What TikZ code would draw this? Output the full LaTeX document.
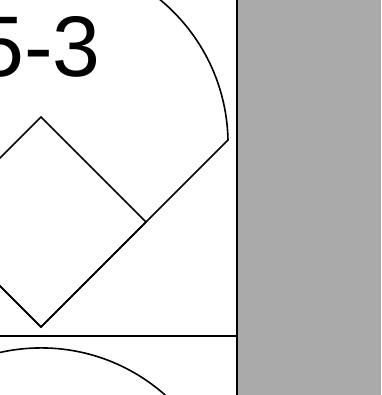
\documentclass[tikz,border=0pt]{standalone}
\usepackage{fontspec}
\setmainfont{Liberation Sans}
\usetikzlibrary{positioning}
\definecolor{sidegray}{RGB}{170,170,170}

\begin{document}
\begin{tikzpicture}[x=1pt,y=-1pt,line width=1.6pt]
\useasboundingbox (0,0) rectangle (381,395);
\clip (0,0) rectangle (381,395);

% 球場 (上の枠と下の枠)
\foreach \dy/\p in {0/a,391/b} {
  \begin{scope}[shift={(0,\dy)}]
    \coordinate (home\p) at (41,327);
    \coordinate (first\p) at (146,222);
    \coordinate (second\p) at (41,117);
    \coordinate (third\p) at (-64,222);
    \coordinate (foul\p) at (228,140);
    \draw (home\p) -- (foul\p) arc[start angle=-1.2, end angle=-178.8, radius=187] -- cycle;
    \draw (home\p) -- (first\p) -- (second\p) -- (third\p) -- cycle;
  \end{scope}
}

% スコア
\node[anchor=base east, inner sep=0pt, font=\fontsize{86}{86}\selectfont] (score) at (101.5,77) {5-3};

% 区切り
\draw[line width=1.2pt] (0,336) -- (237,336);
\fill[sidegray] (237,0) rectangle (381,395);
\draw[line width=1.8pt] (237,0) -- (237,395);
\end{tikzpicture}
\end{document}
